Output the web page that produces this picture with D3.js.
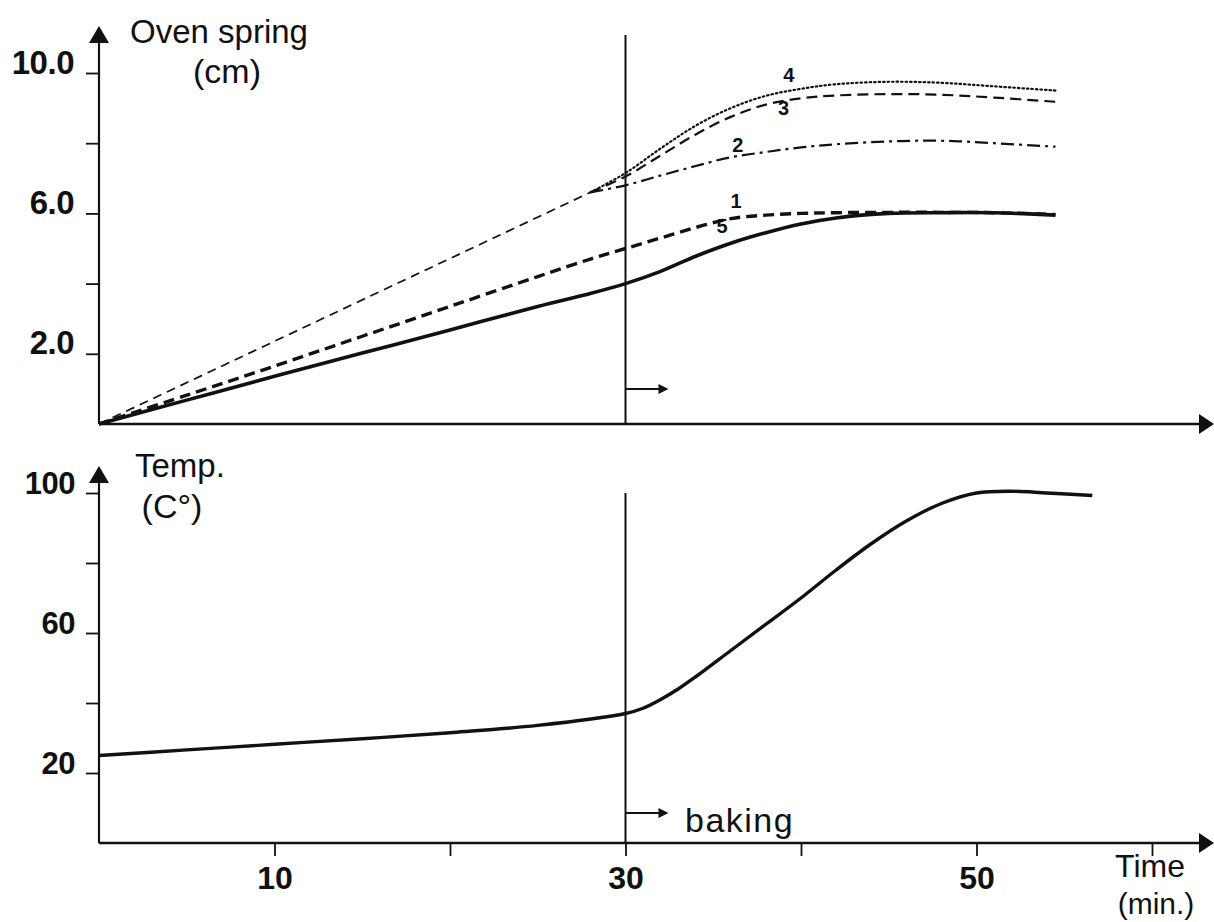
<!DOCTYPE html>
<html>
<head>
<meta charset="utf-8">
<script src="https://cdn.jsdelivr.net/npm/d3@7"></script>
<style>
  html, body { margin: 0; padding: 0; background: #fff; }
  svg { display: block; font-family: "Liberation Sans", Arial, Helvetica, sans-serif; }
</style>
</head>
<body>
<svg id="chart" width="1214" height="922"></svg>
<script>
// ---------------- DATA ----------------
// Top panel: oven spring (cm) vs time (min)
const trunkTime   = [0, 28];
const trunkValues = [0, 6.6];                       // common thin dashed line (curves 2,3,4 before baking)

const springTime = [0, 5, 10, 15, 20, 25, 28, 30, 32, 34, 36, 38, 40, 42, 45, 48, 51, 54.5];
const curve1 = [0, 0.82, 1.65, 2.5, 3.35, 4.2, 4.7, 5.0, 5.3, 5.6, 5.85, 5.95, 6.0, 6.02, 6.03, 6.03, 6.02, 5.97];
const curve5 = [0, 0.68, 1.36, 2.02, 2.68, 3.35, 3.72, 4.0, 4.35, 4.78, 5.15, 5.45, 5.7, 5.87, 6.0, 6.02, 6.02, 5.95];

const branchTime = [28, 30, 32, 34, 36, 38, 40, 42, 45, 48, 51, 54.5];
const curve2 = [6.6, 6.8, 7.08, 7.35, 7.6, 7.75, 7.88, 7.97, 8.05, 8.07, 8.0, 7.9];
const curve3 = [6.6, 7.05, 7.65, 8.25, 8.75, 9.1, 9.28, 9.36, 9.4, 9.38, 9.3, 9.18];
const curve4 = [6.6, 7.15, 7.85, 8.5, 9.0, 9.35, 9.55, 9.68, 9.75, 9.72, 9.62, 9.5];

const curveLabels = ["1", "2", "3", "4", "5"];
// label anchor positions in data units [time, value]
const curveLabelPos = [[36.3, 6.15], [36.4, 7.75], [39.0, 8.8], [39.3, 9.75], [35.5, 5.45]];

// Bottom panel: temperature (°C) vs time (min)
const tempTime   = [0, 5, 10, 15, 20, 25, 30, 31, 32, 33, 34, 36, 38, 40, 42, 44, 46, 48, 50, 52, 54, 56.6];
const tempValues = [25, 26.6, 28.2, 29.8, 31.5, 33.6, 37, 38.5, 41, 44, 47.5, 55, 62.5, 70, 78, 85.5, 92, 97, 100, 100.5, 100, 99.3];

// Axes ticks
const springTicks = [2, 4, 6, 8, 10];
const springTickLabels = {2: "2.0", 6: "6.0", 10: "10.0"};
const tempTicks = [20, 40, 60, 80, 100];
const tempTickLabels = {20: "20", 60: "60", 100: "100"};
const timeTicks = [10, 20, 30, 40, 50, 60];
const timeTickLabels = {10: "10", 30: "30", 50: "50"};
const bakingStart = 30;

// ---------------- DRAW ----------------
const svg = d3.select("#chart");

const x = d3.scaleLinear().domain([0, 60]).range([99, 1152]);
const yTop = d3.scaleLinear().domain([0, 10]).range([424, 73]);
const yBot = d3.scaleLinear().domain([0, 100]).range([843, 493]);

const x0 = x(0);
const black = "#111";

function arrowUp(cx, tipY) {
  svg.append("path").attr("d", `M${cx},${tipY} L${cx - 10},${tipY + 17} L${cx + 10},${tipY + 17} Z`).attr("fill", black);
}
function arrowRight(tipX, cy) {
  svg.append("path").attr("d", `M${tipX},${cy} L${tipX - 15},${cy - 10} L${tipX - 15},${cy + 10} Z`).attr("fill", black);
}

// Top panel axes
svg.append("line").attr("x1", x0).attr("x2", x0).attr("y1", yTop(0)).attr("y2", 38).attr("stroke", black).attr("stroke-width", 2.2);
arrowUp(x0, 26);
svg.append("line").attr("x1", x0).attr("x2", 1202).attr("y1", yTop(0)).attr("y2", yTop(0)).attr("stroke", black).attr("stroke-width", 2.4);
arrowRight(1214, yTop(0));

// Bottom panel axes
svg.append("line").attr("x1", x0).attr("x2", x0).attr("y1", yBot(0)).attr("y2", 478).attr("stroke", black).attr("stroke-width", 2.2);
arrowUp(x0, 466);
svg.append("line").attr("x1", x0).attr("x2", 1202).attr("y1", yBot(0)).attr("y2", yBot(0)).attr("stroke", black).attr("stroke-width", 2.4);
arrowRight(1214, yBot(0));

function styleAxis(g, size) {
  g.select(".domain").remove();
  g.selectAll(".tick line").attr("stroke", black).attr("stroke-width", 1.8);
  g.selectAll(".tick text").attr("fill", black).attr("font-weight", "bold")
    .attr("font-size", size).attr("font-family", "'Liberation Sans', Arial, sans-serif");
}

const gTopY = svg.append("g").attr("transform", `translate(${x0},0)`)
  .call(d3.axisLeft(yTop).tickValues(springTicks).tickSize(13).tickPadding(12)
    .tickFormat(d => springTickLabels[d] || ""));
styleAxis(gTopY, 33);
gTopY.selectAll(".tick text").attr("dy", "0").attr("letter-spacing", "-0.5");

const gBotY = svg.append("g").attr("transform", `translate(${x0},0)`)
  .call(d3.axisLeft(yBot).tickValues(tempTicks).tickSize(13).tickPadding(11)
    .tickFormat(d => tempTickLabels[d] || ""));
styleAxis(gBotY, 31);
gBotY.selectAll(".tick text").attr("dy", "0").attr("letter-spacing", "-0.5");

const gBotX = svg.append("g").attr("transform", `translate(0,${yBot(0)})`)
  .call(d3.axisBottom(x).tickValues(timeTicks).tickSize(13)
    .tickFormat(d => timeTickLabels[d] || ""));
styleAxis(gBotX, 32);
gBotX.selectAll(".tick text").attr("y", 46).attr("dy", "0");

// Baking start vertical lines
svg.append("line").attr("x1", x(bakingStart)).attr("x2", x(bakingStart)).attr("y1", 35).attr("y2", yTop(0)).attr("stroke", black).attr("stroke-width", 2);
svg.append("line").attr("x1", x(bakingStart)).attr("x2", x(bakingStart)).attr("y1", 493).attr("y2", yBot(0)).attr("stroke", black).attr("stroke-width", 2);

function smallArrow(y) {
  const xs = x(bakingStart), xe = x(bakingStart) + 43;
  svg.append("line").attr("x1", xs).attr("x2", xe - 8).attr("y1", y).attr("y2", y).attr("stroke", black).attr("stroke-width", 2);
  svg.append("path").attr("d", `M${xe},${y} L${xe - 10},${y - 5} L${xe - 10},${y + 5} Z`).attr("fill", black);
}
smallArrow(389);
smallArrow(813);

function drawCurve(times, values, yScale, opts) {
  const pts = times.map((t, i) => [t, values[i]]);
  const line = d3.line().x(d => x(d[0])).y(d => yScale(d[1])).curve(d3.curveCatmullRom.alpha(0.5));
  svg.append("path").datum(pts).attr("d", line)
    .attr("fill", "none").attr("stroke", black)
    .attr("stroke-width", opts.w)
    .attr("stroke-dasharray", opts.dash || null)
    .attr("stroke-linecap", opts.cap || "butt")
    .attr("stroke-linejoin", "round");
}

drawCurve(trunkTime, trunkValues, yTop, {w: 1.7, dash: "9,6"});
drawCurve(branchTime, curve2, yTop, {w: 2.2, dash: "13,5,3,5"});
drawCurve(branchTime, curve3, yTop, {w: 2.2, dash: "11,6"});
drawCurve(branchTime, curve4, yTop, {w: 2.2, dash: "1.5,3", cap: "round"});
drawCurve(springTime, curve1, yTop, {w: 3.4, dash: "11,6"});
drawCurve(springTime, curve5, yTop, {w: 3.6});

svg.selectAll("text.clabel").data(curveLabels).enter().append("text")
  .attr("class", "clabel")
  .attr("x", (d, i) => x(curveLabelPos[i][0]))
  .attr("y", (d, i) => yTop(curveLabelPos[i][1]))
  .attr("text-anchor", "middle")
  .attr("font-size", 20).attr("font-weight", "bold").attr("fill", black)
  .text(d => d);

drawCurve(tempTime, tempValues, yBot, {w: 3.4});

function txt(s, xx, yy, size, anchor, ls) {
  svg.append("text").attr("x", xx).attr("y", yy).attr("font-size", size).attr("fill", black)
    .attr("text-anchor", anchor || "start").attr("letter-spacing", ls || 0).text(s);
}
txt("Oven spring", 130, 43, 33);
txt("(cm)", 227, 83, 34, "middle");
txt("Temp.", 135, 477, 33);
txt("(C°)", 172, 518, 34, "middle");
txt("baking", 685, 832, 34, "start", 1.5);
txt("Time", 1150, 877, 32, "middle");
txt("(min.)", 1156, 914, 30, "middle");
</script>
</body>
</html>
